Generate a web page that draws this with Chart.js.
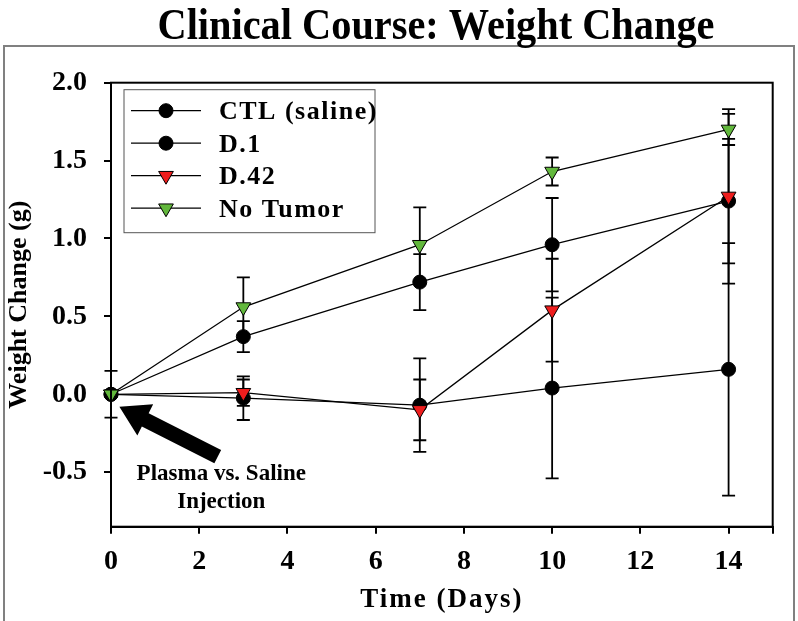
<!DOCTYPE html>
<html>
<head>
<meta charset="utf-8">
<style>
  html, body { margin: 0; padding: 0; background: #fff; }
  #wrap { width: 798px; height: 621px; }
</style>
</head>
<body>
<div id="wrap"><canvas id="myChart" width="798" height="621"></canvas></div>
<script src="https://cdn.jsdelivr.net/npm/chart.js@4.4.0/dist/chart.umd.min.js"></script>
<script>
// values
var days = [0, 3, 7, 10, 14];
var ctlVals = [0, -0.025, -0.07, 0.04, 0.16];
var ctlErr = [0.15, 0.14, 0.30, 0.58, 0.81];
var d1Vals = [0, 0.37, 0.72, 0.96, 1.24];
var d1Err = [0, 0.10, 0.18, 0.30, 0.40];
var d42Vals = [0, 0.01, -0.10, 0.54, 1.27];
var d42Err = [0, 0.085, 0.195, 0.33, 0.56];
var noTumorVals = [0, 0.56, 0.96, 1.43, 1.70];
var noTumorErr = [0, 0.19, 0.24, 0.09, 0.10];
var xTicks = [0, 2, 4, 6, 8, 10, 12, 14];
var yTicks = [-0.5, 0.0, 0.5, 1.0, 1.5, 2.0];

var SERIF = '"Liberation Serif", "Times New Roman", serif';
var RED = '#ee1d1d';
var GREEN = '#62b83c';

function pts(vals) {
  return vals.map(function (v, i) { return { x: days[i], y: v }; });
}

function series(label, vals, errs, style, color, order) {
  return {
    label: label,
    data: pts(vals),
    errors: errs,
    order: order,
    clip: false,
    borderColor: '#000',
    borderWidth: 1.3,
    pointStyle: style,
    pointRadius: style === 'circle' ? 7 : 8.5,
    pointRotation: style === 'circle' ? 0 : 180,
    pointBackgroundColor: color,
    pointBorderColor: '#000',
    pointBorderWidth: 1,
    tension: 0
  };
}

// vertical error bars with caps
var errorBars = {
  id: 'errorBars',
  beforeDatasetsDraw: function (chart) {
    var ctx = chart.ctx, ys = chart.scales.y;
    ctx.save();
    ctx.strokeStyle = '#000';
    ctx.lineWidth = 1.8;
    chart.data.datasets.forEach(function (ds, i) {
      var meta = chart.getDatasetMeta(i);
      meta.data.forEach(function (p, j) {
        var e = ds.errors[j];
        if (!e) return;
        var v = ds.data[j].y;
        var top = ys.getPixelForValue(v + e);
        var bot = ys.getPixelForValue(v - e);
        ctx.beginPath();
        ctx.moveTo(p.x, top); ctx.lineTo(p.x, bot);
        ctx.moveTo(p.x - 6.5, top); ctx.lineTo(p.x + 6.5, top);
        ctx.moveTo(p.x - 6.5, bot); ctx.lineTo(p.x + 6.5, bot);
        ctx.stroke();
      });
    });
    ctx.restore();
  }
};

function marker(ctx, style, color, x, y, r) {
  ctx.beginPath();
  if (style === 'circle') {
    ctx.arc(x, y, r, 0, Math.PI * 2);
  } else {
    ctx.moveTo(x, y + r);
    ctx.lineTo(x - r * 0.866, y - r / 2);
    ctx.lineTo(x + r * 0.866, y - r / 2);
    ctx.closePath();
  }
  ctx.fillStyle = color;
  ctx.fill();
  ctx.strokeStyle = '#000';
  ctx.lineWidth = 1;
  ctx.stroke();
}

var decorations = {
  id: 'decorations',
  beforeDraw: function (chart) {
    var ctx = chart.ctx;
    ctx.save();
    // outer gray frame
    ctx.strokeStyle = '#808080';
    ctx.lineWidth = 2;
    ctx.strokeRect(4, 46, 790, 600);
    // title
    ctx.fillStyle = '#000';
    ctx.font = 'bold 44px ' + SERIF;
    var w = ctx.measureText('Clinical Course: Weight Change').width;
    ctx.translate(436, 39);
    ctx.scale(557 / w, 1);
    ctx.textAlign = 'center';
    ctx.textBaseline = 'alphabetic';
    ctx.fillText('Clinical Course: Weight Change', 0, 0);
    ctx.restore();
  },
  afterDraw: function (chart) {
    var ctx = chart.ctx, a = chart.chartArea;
    var xs = chart.scales.x, ys = chart.scales.y;
    ctx.save();
    // plot frame
    ctx.strokeStyle = '#000';
    ctx.lineWidth = 2;
    ctx.strokeRect(a.left, a.top, a.right - a.left, a.bottom - a.top);

    // x axis title
    ctx.fillStyle = '#000';
    ctx.font = 'bold 27px ' + SERIF;
    ctx.letterSpacing = '2px';
    ctx.textAlign = 'center';
    ctx.textBaseline = 'alphabetic';
    ctx.fillText('Time (Days)', (a.left + a.right) / 2, 607);

    // legend, in dataset order
    var lx = a.left + 13, ly = a.top + 7;
    ctx.lineWidth = 1;
    ctx.strokeStyle = '#555';
    ctx.strokeRect(lx, ly, 251, 143);
    ctx.font = 'bold 26px ' + SERIF;
    ctx.letterSpacing = '1.5px';
    ctx.textAlign = 'left';
    ctx.textBaseline = 'middle';
    chart.data.datasets.forEach(function (ds, i) {
      var ry = ly + 21 + i * 32.5;
      ctx.strokeStyle = '#000';
      ctx.lineWidth = 1.3;
      ctx.beginPath();
      ctx.moveTo(lx + 7, ry); ctx.lineTo(lx + 77, ry);
      ctx.stroke();
      marker(ctx, ds.pointStyle, ds.pointBackgroundColor, lx + 42, ry, ds.pointStyle === 'circle' ? 7 : 8.5);
      ctx.fillStyle = '#000';
      ctx.fillText(ds.label, lx + 95, ry + 2);
    });

    // annotation arrow (anchored in data units)
    var tipX = xs.getPixelForValue(0.19), tipY = ys.getPixelForValue(-0.08);
    var tailX = xs.getPixelForValue(2.42), tailY = ys.getPixelForValue(-0.40);
    var dx = tailX - tipX, dy = tailY - tipY, len = Math.hypot(dx, dy);
    var ux = dx / len, uy = dy / len, nx = -uy, ny = ux;
    var headLen = 29, headW = 17.5, shaftW = 7.5;
    var bx = tipX + ux * headLen, by = tipY + uy * headLen;
    ctx.fillStyle = '#000';
    ctx.beginPath();
    ctx.moveTo(tipX, tipY);
    ctx.lineTo(bx + nx * headW, by + ny * headW);
    ctx.lineTo(bx + nx * shaftW, by + ny * shaftW);
    ctx.lineTo(tailX + nx * shaftW, tailY + ny * shaftW);
    ctx.lineTo(tailX - nx * shaftW, tailY - ny * shaftW);
    ctx.lineTo(bx - nx * shaftW, by - ny * shaftW);
    ctx.lineTo(bx - nx * headW, by - ny * headW);
    ctx.closePath();
    ctx.fill();

    ctx.font = 'bold 23px ' + SERIF;
    ctx.letterSpacing = '0px';
    ctx.textAlign = 'center';
    ctx.textBaseline = 'alphabetic';
    ctx.fillText('Plasma vs. Saline', xs.getPixelForValue(2.5), ys.getPixelForValue(-0.55));
    ctx.fillText('Injection', xs.getPixelForValue(2.5), ys.getPixelForValue(-0.73));
    ctx.restore();
  }
};

var ctx = document.getElementById('myChart').getContext('2d');
var myChart = new Chart(ctx, {
  type: 'line',
  data: {
    datasets: [
      series('CTL (saline)', ctlVals, ctlErr, 'circle', '#000', 4),
      series('D.1', d1Vals, d1Err, 'circle', '#000', 3),
      series('D.42', d42Vals, d42Err, 'triangle', RED, 2),
      series('No Tumor', noTumorVals, noTumorErr, 'triangle', GREEN, 1)
    ]
  },
  options: {
    responsive: false,
    animation: false,
    layout: { padding: { top: 82.7, left: 0, right: 25.3, bottom: 0 } },
    plugins: {
      legend: { display: false },
      title: { display: false },
      tooltip: { enabled: false }
    },
    scales: {
      x: {
        type: 'linear',
        min: 0,
        max: 15,
        afterBuildTicks: function (s) {
          s.ticks = xTicks.concat([15]).map(function (v) { return { value: v }; });
        },
        afterFit: function (s) { s.height = 94.3; },
        grid: { display: true, drawOnChartArea: false, drawTicks: true, tickLength: 7, color: '#000', lineWidth: 2 },
        border: { display: true, color: '#000', width: 2 },
        ticks: {
          padding: 11,
          color: '#000',
          font: { family: SERIF, size: 28, weight: 'bold' },
          maxRotation: 0,
          autoSkip: false,
          callback: function (v) { return xTicks.indexOf(v) >= 0 ? String(v) : ''; }
        },
        title: { display: false }
      },
      y: {
        type: 'linear',
        min: -0.85,
        max: 2.0,
        afterBuildTicks: function (s) {
          s.ticks = yTicks.map(function (v) { return { value: v }; });
        },
        afterFit: function (s) { s.width = 111; },
        grid: { display: true, drawOnChartArea: false, drawTicks: true, tickLength: 7, color: '#000', lineWidth: 2 },
        border: { display: true, color: '#000', width: 2 },
        ticks: {
          padding: 17,
          color: '#000',
          font: { family: SERIF, size: 28, weight: 'bold' },
          callback: function (v) { return v.toFixed(1); }
        },
        title: {
          display: true,
          text: 'Weight Change (g)',
          color: '#000',
          font: { family: SERIF, size: 26, weight: 'bold' },
          padding: { top: 4, bottom: 0 }
        }
      }
    }
  },
  plugins: [errorBars, decorations]
});
</script>
</body>
</html>
